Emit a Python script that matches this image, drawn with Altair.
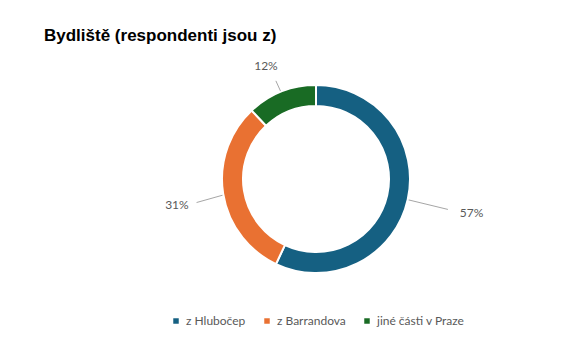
import altair as alt
import pandas as pd

categories = ["z Hlubočep", "z Barrandova", "jiné části v Praze"]
values = [57, 31, 12]
labels = ["57%", "31%", "12%"]
colors = ["#156082", "#E97132", "#196B24"]

df = pd.DataFrame({
    "cat": categories,
    "value": values,
    "label": labels,
    "order": list(range(len(categories))),
})

W, H = 548, 292
CX, CY = 308, 121  # donut centre inside the plot area
xs = alt.Scale(domain=[-CX, W - CX], nice=False, zero=False)
ys = alt.Scale(domain=[-(H - CY), CY], nice=False, zero=False)

base = alt.Chart(df).transform_window(
    cum="sum(value)", sort=[alt.SortField("order")]
).transform_joinaggregate(
    total="sum(value)"
).transform_calculate(
    mid="2*PI*(datum.cum - datum.value/2)/datum.total"
).transform_calculate(
    s="sin(datum.mid)",
    c="cos(datum.mid)",
).transform_calculate(
    lx1="83*datum.s", ly1="83*datum.c",
    lx2="128*datum.s + 7", ly2="112*datum.c - 6",
    tx="136*datum.s", ty="128*datum.c - 6",
)

arc = alt.Chart(df).mark_arc(
    innerRadius=73, outerRadius=94, stroke="white", strokeWidth=2
).encode(
    theta=alt.Theta("value:Q", stack=True),
    order=alt.Order("order:Q"),
    color=alt.Color(
        "cat:N",
        scale=alt.Scale(domain=categories, range=colors),
        sort=categories,
        legend=alt.Legend(
            title=None, orient="none", direction="horizontal",
            legendX=162, legendY=257,
            symbolType="square", symbolSize=30, symbolStrokeWidth=0,
            labelFont="Lato", labelFontSize=12, labelColor="#595959",
            labelOffset=4, columnPadding=15,
        ),
    ),
    x=alt.datum(0, type="quantitative", scale=xs, axis=None),
    y=alt.datum(0, type="quantitative", scale=ys, axis=None),
)

rules = base.mark_rule(color="#a6a6a6", strokeWidth=1).encode(
    x=alt.X("lx1:Q", scale=xs, axis=None),
    y=alt.Y("ly1:Q", scale=ys, axis=None),
    x2="lx2:Q",
    y2="ly2:Q",
)

def text_layer(filt, align, dx):
    return base.transform_filter(filt).mark_text(
        font="Lato", fontSize=12, color="#595959", align=align,
        baseline="middle", dx=dx,
    ).encode(
        x=alt.X("tx:Q", scale=xs, axis=None),
        y=alt.Y("ty:Q", scale=ys, axis=None),
        text="label:N",
    )

texts = [
    text_layer("datum.s > 0.5", "left", 11),
    text_layer("datum.s < -0.5", "right", 7),
    text_layer("abs(datum.s) <= 0.5", "center", 0),
]

chart = alt.layer(rules, arc, *texts).properties(
    width=W, height=H,
    autosize=alt.AutoSizeParams(type="none"),
    padding={"left": 0, "top": 50, "right": 0, "bottom": 0},
    title=alt.TitleParams(
        "Bydliště (respondenti jsou z)", anchor="start", frame="group",
        font="Liberation Sans", fontSize=17, fontWeight="bold", color="#000000",
        dx=36, offset=13,
    ),
).configure_view(stroke=None)

chart.save("out.html", embed_options={"renderer": "svg", "actions": False})
